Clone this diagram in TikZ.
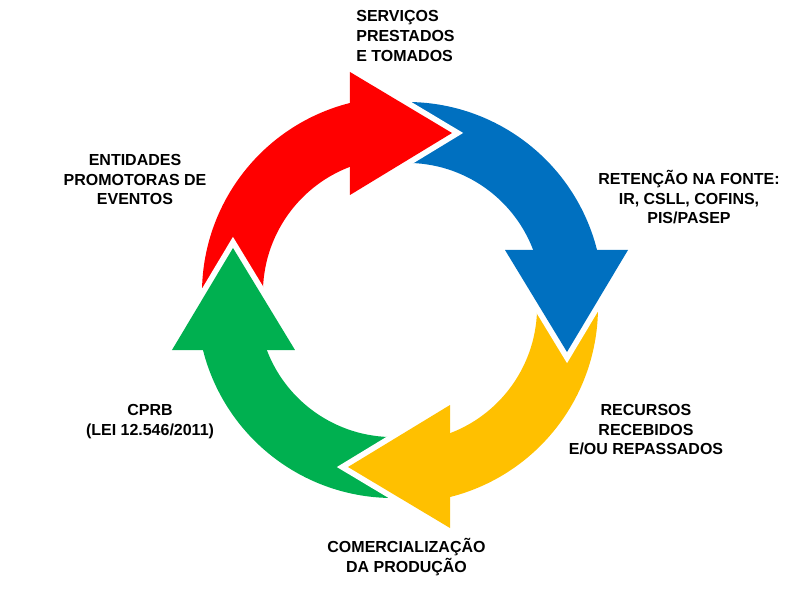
\documentclass[tikz,border=0pt]{standalone}
\usepackage{xcolor}
\usepackage{fontspec}
\setmainfont{Liberation Sans}
\usepackage{tikz}

\definecolor{cycred}{HTML}{FF0000}
\definecolor{cycblue}{HTML}{0070C0}
\definecolor{cycyellow}{HTML}{FFC000}
\definecolor{cycgreen}{HTML}{00B050}

\tikzset{cyctext/.style={draw=none, font=\fontsize{9.1}{11.1}\selectfont\bfseries, align=center, inner sep=0pt}}

\begin{document}
\begin{tikzpicture}[scale=.02]
             \useasboundingbox (-400,-300) rectangle (400,300);

             % bodies of the four arrows
             \foreach \ang/\col in {0/cycred, -90/cycblue, -180/cycyellow, -270/cycgreen}{
               \fill[\col, rotate=\ang] ([shift={(-2,7)}]183:196) arc[start angle=183, end angle=104.2, radius=196]
                 -- (-50,133.2) arc[start angle=110.8, end angle=183, radius=135] -- cycle;
             }
             % heads, cut into the next tail
             \foreach \ang/\col in {0/cycred, -90/cycblue, -180/cycyellow, -270/cycgreen}{
               \draw[white, line width=.23cm, rotate=\ang] (-50,105) -- (52,167) -- (-50,228);
               \fill[\col, rotate=\ang] (-50,105) -- (52,167) -- (-50,228) -- cycle;
             }

             \node[cyctext, anchor=west, align=left] (serv) at (-44,264) {SERVIÇOS\\PRESTADOS\\E TOMADOS};
             \node[cyctext] (ret) at (289,102.5) {RETENÇÃO NA FONTE:\\IR, CSLL, COFINS,\\PIS/PASEP};
             \node[cyctext] (rec) at (246,-130) {RECURSOS\\RECEBIDOS\\E/OU REPASSADOS};
             \node[cyctext] (com) at (6.5,-257) {COMERCIALIZAÇÃO\\DA PRODUÇÃO};
             \node[cyctext] (cprb) at (-250,-121.7) {CPRB\\(LEI 12.546/2011)};
             \node[cyctext] (ent) at (-265,120.5) {ENTIDADES\\PROMOTORAS DE\\EVENTOS};
\end{tikzpicture}
\end{document}
